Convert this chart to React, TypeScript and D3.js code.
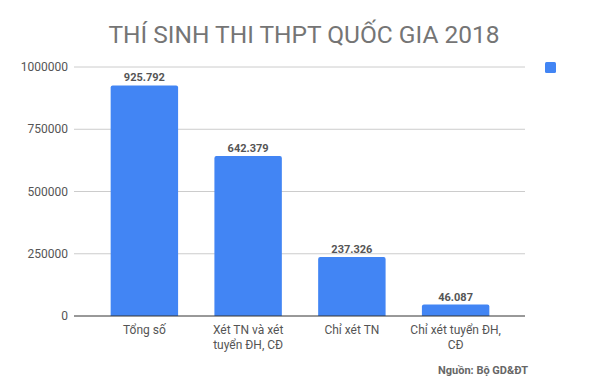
import * as d3 from "d3";
import { useEffect, useRef } from "react";

const categories = ["Tổng số", "Xét TN và xét tuyển ĐH, CĐ", "Chỉ xét TN", "Chỉ xét tuyển ĐH, CĐ"];
const values = [925792, 642379, 237326, 46087];
const valueLabels = ["925.792", "642.379", "237.326", "46.087"];
const yTicks = [0, 250000, 500000, 750000, 1000000];

const W = 600;
const H = 384;

export default function App() {
  const ref = useRef<SVGSVGElement>(null);

  useEffect(() => {
    const svg = d3.select(ref.current);
    svg.selectAll("*").remove();
    const font = "Roboto, 'Noto Sans', sans-serif";

    svg.append("rect").attr("width", W).attr("height", H).attr("fill", "#fff");

    // title
    svg.append("text")
      .attr("x", 304).attr("y", 43)
      .attr("text-anchor", "middle")
      .style("font-family", font).style("font-size", "24.5px")
      .attr("fill", "#757575")
      .text("THÍ SINH THI THPT QUỐC GIA 2018");

    const left = 74, right = 525;
    const y = d3.scaleLinear().domain([0, 1000000]).range([316, 67]);
    const x = d3.scaleBand<string>()
      .domain(categories)
      .range([92.5, 507.5])
      .paddingInner(0.35)
      .paddingOuter(0.175);

    // grid
    svg.append("g").selectAll("line")
      .data(yTicks.filter(t => t > 0))
      .join("line")
      .attr("x1", left).attr("x2", right)
      .attr("y1", d => y(d)).attr("y2", d => y(d))
      .attr("stroke", "#cccccc").attr("stroke-width", 1);

    svg.append("g").selectAll("text")
      .data(yTicks)
      .join("text")
      .attr("x", 68).attr("y", d => y(d) + 4)
      .attr("text-anchor", "end")
      .style("font-family", font).style("font-size", "12px")
      .attr("fill", "#555")
      .text(d => String(d));

    // bars
    svg.append("g").selectAll("path")
      .data(values)
      .join("path")
      .attr("d", (d, i) => {
        const x0 = x(categories[i])!, w = x.bandwidth();
        const y0 = y(d), y1 = y(0), r = 2;
        return `M${x0},${y1}V${y0 + r}Q${x0},${y0} ${x0 + r},${y0}H${x0 + w - r}Q${x0 + w},${y0} ${x0 + w},${y0 + r}V${y1}Z`;
      })
      .attr("fill", "#4285f4");

    svg.append("g").selectAll("text")
      .data(values)
      .join("text")
      .attr("x", (d, i) => x(categories[i])! + x.bandwidth() / 2)
      .attr("y", d => y(d) - 4)
      .attr("text-anchor", "middle")
      .style("font-family", font).style("font-size", "11px").style("font-weight", "bold")
      .attr("fill", "#555")
      .text((d, i) => valueLabels[i]);

    // baseline
    svg.append("line")
      .attr("x1", left).attr("x2", right)
      .attr("y1", y(0)).attr("y2", y(0))
      .attr("stroke", "#333").attr("stroke-width", 1);

    // category labels (wrapped)
    const wrapped: Record<string, string[]> = {
      "Tổng số": ["Tổng số"],
      "Xét TN và xét tuyển ĐH, CĐ": ["Xét TN và xét", "tuyển ĐH, CĐ"],
      "Chỉ xét TN": ["Chỉ xét TN"],
      "Chỉ xét tuyển ĐH, CĐ": ["Chỉ xét tuyển ĐH,", "CĐ"],
    };
    categories.forEach(c => {
      const t = svg.append("text")
        .attr("text-anchor", "middle")
        .style("font-family", font).style("font-size", "12px")
        .attr("fill", "#555");
      wrapped[c].forEach((line, j) => {
        t.append("tspan")
          .attr("x", x(c)! + x.bandwidth() / 2)
          .attr("y", 334 + j * 15)
          .text(line);
      });
    });

    // legend
    svg.append("rect")
      .attr("x", 545).attr("y", 62).attr("width", 11).attr("height", 11)
      .attr("rx", 1.5)
      .attr("fill", "#4285f4");

    // source
    svg.append("text")
      .attr("x", 528).attr("y", 374)
      .attr("text-anchor", "end")
      .style("font-family", font).style("font-size", "11px").style("font-weight", "bold")
      .attr("fill", "#666")
      .text("Nguồn: Bộ GD&ĐT");
  }, []);

  return (
    <svg ref={ref} width={W} height={H} style={{ position: "absolute", left: 0, top: 0 }} />
  );
}
